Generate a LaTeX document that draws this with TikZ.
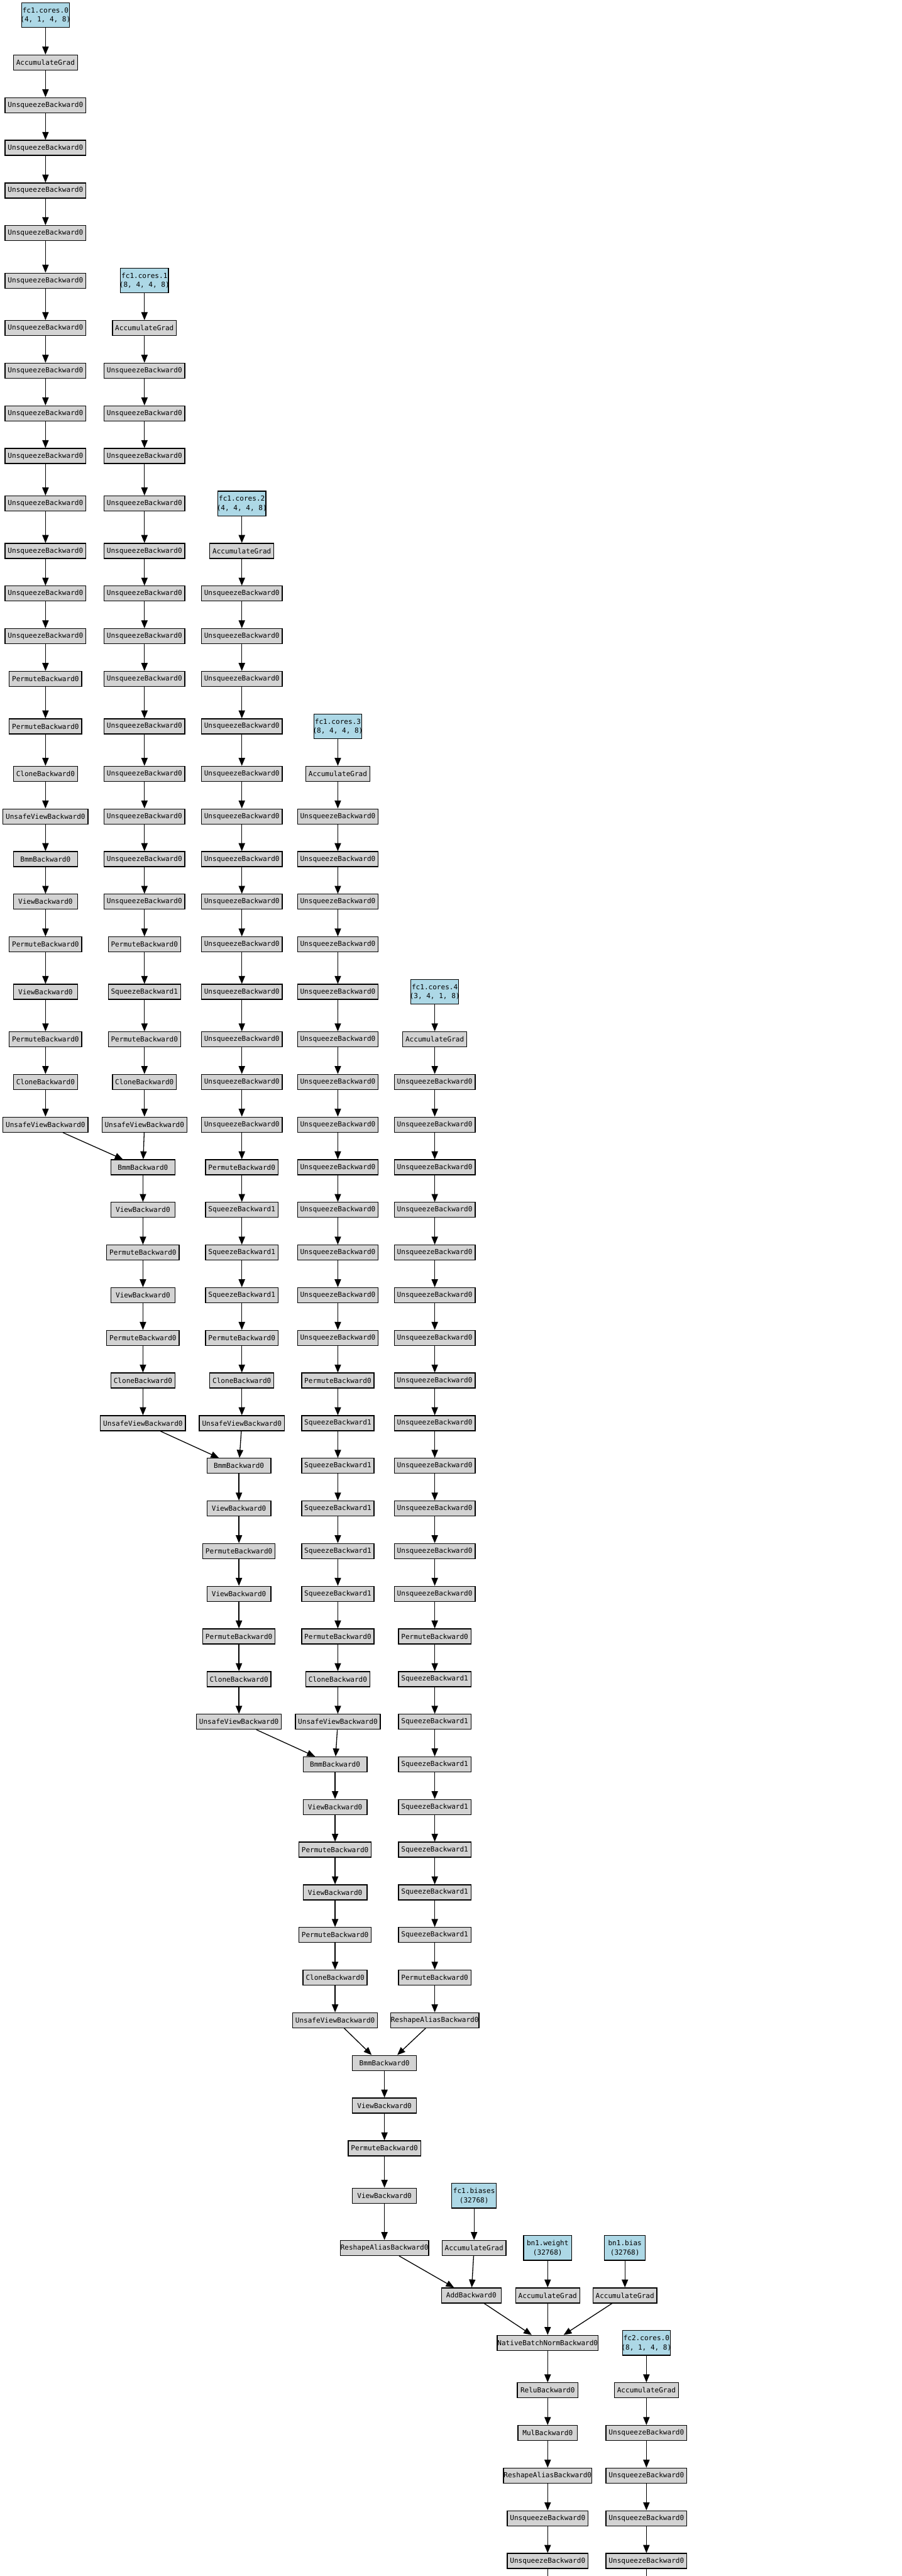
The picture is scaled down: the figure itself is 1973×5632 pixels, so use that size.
\documentclass[tikz,border=0pt]{standalone}
\usepackage{fontspec}
\newfontfamily\gvmono{DejaVu Sans Mono}
\usetikzlibrary{arrows.meta}
\definecolor{gvblue}{HTML}{ADD8E6}
\definecolor{gvgray}{HTML}{D3D3D3}
% y of every rank of the graph (px from the top)
\def\ry{{33,136.75,230,323.25,416.5,509.75,613.5,717.25,810.5,903.75,997,1100.75,1204.5,1297.75,1391,1484.25,1588,1691.75,1785,1878.25,1971.5,2064.75,2168.5,2272.25,2365.5,2458.75,2552,2645.25,2738.5,2831.75,2925,3018.25,3111.5,3204.75,3298,3391.25,3484.5,3577.75,3671,3764.25,3857.5,3950.75,4044,4137.25,4230.5,4323.75,4417,4510.25,4603.5,4696.75,4800.5,4914.75,5018.5,5122.25,5226,5319.25,5412.5,5505.75,5599}}

\begin{document}
\begin{tikzpicture}[
    x=0.5pt, y=-0.5pt,
    fn/.style={
        draw,
        fill=gvgray,
        line width=0.9pt,
        inner xsep=3pt,
        inner ysep=0pt,
        minimum width=70pt,
        minimum height=16.5pt,
        font=\gvmono\fontsize{7.6}{10}\selectfont
    },
    leaf/.style={fn, fill=gvblue, align=center, inner xsep=-1.25pt, minimum width=52.5pt, minimum height=27pt},
    snug/.style={inner xsep=0.3pt},
    link/.style={-{Triangle[length=8.7pt,width=7pt]}, line width=0.9pt}
]
\useasboundingbox (0,0) rectangle (1973,5632);
\fill[white] (0,0) rectangle (1973,5632);

% Core 0
\node[leaf] (a0) at (99.5,{\ry[0]}) {fc1.cores.0\\(4, 1, 4, 8)};
\node[fn] (a1) at (99.5,{\ry[1]}) {AccumulateGrad};
\foreach \r in {2,...,14} \node[fn] (a\r) at (99.5,{\ry[\r]}) {UnsqueezeBackward0};
\foreach \r/\t in {15/PermuteBackward0,16/PermuteBackward0,17/CloneBackward0,18/UnsafeViewBackward0,
    19/BmmBackward0,20/ViewBackward0,21/PermuteBackward0,22/ViewBackward0,23/PermuteBackward0,
    24/CloneBackward0,25/UnsafeViewBackward0}
    \node[fn] (a\r) at (99.5,{\ry[\r]}) {\t};
\foreach \r [remember=\r as \p (initially 0)] in {1,...,25} \draw[link] (a\p) -- (a\r);

% Core 1
\node[leaf] (b6) at (316,{\ry[6]}) {fc1.cores.1\\(8, 4, 4, 8)};
\node[fn] (b7) at (316,{\ry[7]}) {AccumulateGrad};
\foreach \r in {8,...,20} \node[fn] (b\r) at (316,{\ry[\r]}) {UnsqueezeBackward0};
\foreach \r/\t in {21/PermuteBackward0,22/SqueezeBackward1,23/PermuteBackward0,24/CloneBackward0,
    25/UnsafeViewBackward0}
    \node[fn] (b\r) at (316,{\ry[\r]}) {\t};
\foreach \r/\t in {26/BmmBackward0,27/ViewBackward0,28/PermuteBackward0,29/ViewBackward0,
    30/PermuteBackward0,31/CloneBackward0,32/UnsafeViewBackward0}
    \node[fn] (b\r) at (312.7,{\ry[\r]}) {\t};
\foreach \r [remember=\r as \p (initially 6)] in {7,...,32} \draw[link] (b\p) -- (b\r);
\draw[link] ([xshift=19pt]a25.south) -- ([xshift=-22pt]b26.north);

% Core 2
\node[leaf] (c11) at (529,{\ry[11]}) {fc1.cores.2\\(4, 4, 4, 8)};
\node[fn] (c12) at (529,{\ry[12]}) {AccumulateGrad};
\foreach \r in {13,...,25} \node[fn] (c\r) at (529,{\ry[\r]}) {UnsqueezeBackward0};
\foreach \r/\t in {26/PermuteBackward0,27/SqueezeBackward1,28/SqueezeBackward1,29/SqueezeBackward1,
    30/PermuteBackward0,31/CloneBackward0,32/UnsafeViewBackward0}
    \node[fn] (c\r) at (529,{\ry[\r]}) {\t};
\foreach \r/\t in {33/BmmBackward0,34/ViewBackward0,35/PermuteBackward0,36/ViewBackward0,
    37/PermuteBackward0,38/CloneBackward0,39/UnsafeViewBackward0}
    \node[fn] (c\r) at (522.7,{\ry[\r]}) {\t};
\foreach \r [remember=\r as \p (initially 11)] in {12,...,39} \draw[link] (c\p) -- (c\r);
\draw[link] ([xshift=19pt]b32.south) -- ([xshift=-22pt]c33.north);

% Core 3
\node[leaf] (d16) at (739,{\ry[16]}) {fc1.cores.3\\(8, 4, 4, 8)};
\node[fn] (d17) at (739,{\ry[17]}) {AccumulateGrad};
\foreach \r in {18,...,30} \node[fn] (d\r) at (739,{\ry[\r]}) {UnsqueezeBackward0};
\node[fn] (d31) at (739,{\ry[31]}) {PermuteBackward0};
\foreach \r in {32,...,36} \node[fn] (d\r) at (739,{\ry[\r]}) {SqueezeBackward1};
\foreach \r/\t in {37/PermuteBackward0,38/CloneBackward0,39/UnsafeViewBackward0}
    \node[fn] (d\r) at (739,{\ry[\r]}) {\t};
\foreach \r/\t in {40/BmmBackward0,41/ViewBackward0,42/PermuteBackward0,43/ViewBackward0,
    44/PermuteBackward0,45/CloneBackward0,46/UnsafeViewBackward0}
    \node[fn] (d\r) at (733,{\ry[\r]}) {\t};
\foreach \r [remember=\r as \p (initially 16)] in {17,...,46} \draw[link] (d\p) -- (d\r);
\draw[link] ([xshift=19pt]c39.south) -- ([xshift=-22pt]d40.north);

% Core 4
\node[leaf] (e22) at (951,{\ry[22]}) {fc1.cores.4\\(3, 4, 1, 8)};
\node[fn] (e23) at (951,{\ry[23]}) {AccumulateGrad};
\foreach \r in {24,...,36} \node[fn] (e\r) at (951,{\ry[\r]}) {UnsqueezeBackward0};
\node[fn] (e37) at (951,{\ry[37]}) {PermuteBackward0};
\foreach \r in {38,...,44} \node[fn] (e\r) at (951,{\ry[\r]}) {SqueezeBackward1};
\node[fn] (e45) at (951,{\ry[45]}) {PermuteBackward0};
\node[fn,snug] (e46) at (951,{\ry[46]}) {ReshapeAliasBackward0};
\foreach \r [remember=\r as \p (initially 22)] in {23,...,46} \draw[link] (e\p) -- (e\r);

% Last product
\foreach \r/\t in {47/BmmBackward0,48/ViewBackward0,49/PermuteBackward0,50/ViewBackward0}
    \node[fn] (f\r) at (841,{\ry[\r]}) {\t};
\node[fn,snug] (f51) at (841,{\ry[51]}) {ReshapeAliasBackward0};
\foreach \r [remember=\r as \p (initially 47)] in {48,...,51} \draw[link] (f\p) -- (f\r);
\draw[link] ([xshift=10pt]d46.south) -- ([xshift=-14pt]f47.north);
\draw[link] ([xshift=-10pt]e46.south) -- ([xshift=14pt]f47.north);

% Bias
\node[leaf,minimum width=49pt] (p50) at (1037,{\ry[50]}) {fc1.biases\\(32768)};
\node[fn] (p51) at (1037,{\ry[51]}) {AccumulateGrad};
\node[fn,minimum width=65.5pt] (add) at (1031,{\ry[52]}) {AddBackward0};
\draw[link] (p50) -- (p51);
\draw[link] (p51) -- (add);
\draw[link] ([xshift=16pt]f51.south) -- ([xshift=-19pt]add.north);

% Batch norm
\node[leaf] (w51) at (1198,{\ry[51]}) {bn1.weight\\(32768)};
\node[fn] (w52) at (1198,{\ry[52]}) {AccumulateGrad};
\node[leaf,minimum width=44.5pt] (v51) at (1367,{\ry[51]}) {bn1.bias\\(32768)};
\node[fn] (v52) at (1367,{\ry[52]}) {AccumulateGrad};
\node[fn,snug] (g53) at (1198,{\ry[53]}) {NativeBatchNormBackward0};
\node[fn,minimum width=66.5pt] (g54) at (1198,{\ry[54]}) {ReluBackward0};
\node[fn,minimum width=65pt] (g55) at (1198,{\ry[55]}) {MulBackward0};
\node[fn,snug] (g56) at (1198,{\ry[56]}) {ReshapeAliasBackward0};
\foreach \r in {57,58} \node[fn] (g\r) at (1198,{\ry[\r]}) {UnsqueezeBackward0};
\draw[link] (w51) -- (w52);
\draw[link] (v51) -- (v52);
\draw[link] ([xshift=14pt]add.south) -- ([xshift=-17.5pt]g53.north);
\draw[link] (w52) -- (g53);
\draw[link] ([xshift=-14pt]v52.south) -- ([xshift=17.5pt]g53.north);
\foreach \r [remember=\r as \p (initially 53)] in {54,...,58} \draw[link] (g\p) -- (g\r);

% fc2 core 0
\node[leaf] (h53) at (1414,{\ry[53]}) {fc2.cores.0\\(8, 1, 4, 8)};
\node[fn] (h54) at (1414,{\ry[54]}) {AccumulateGrad};
\foreach \r in {55,...,58} \node[fn] (h\r) at (1414,{\ry[\r]}) {UnsqueezeBackward0};
\foreach \r [remember=\r as \p (initially 53)] in {54,...,58} \draw[link] (h\p) -- (h\r);

% cut at the bottom
\coordinate (gend) at (1198,5632);
\coordinate (hend) at (1414,5632);
\draw[line width=0.9pt] (g58) -- (gend);
\draw[line width=0.9pt] (h58) -- (hend);

\end{tikzpicture}
\end{document}
